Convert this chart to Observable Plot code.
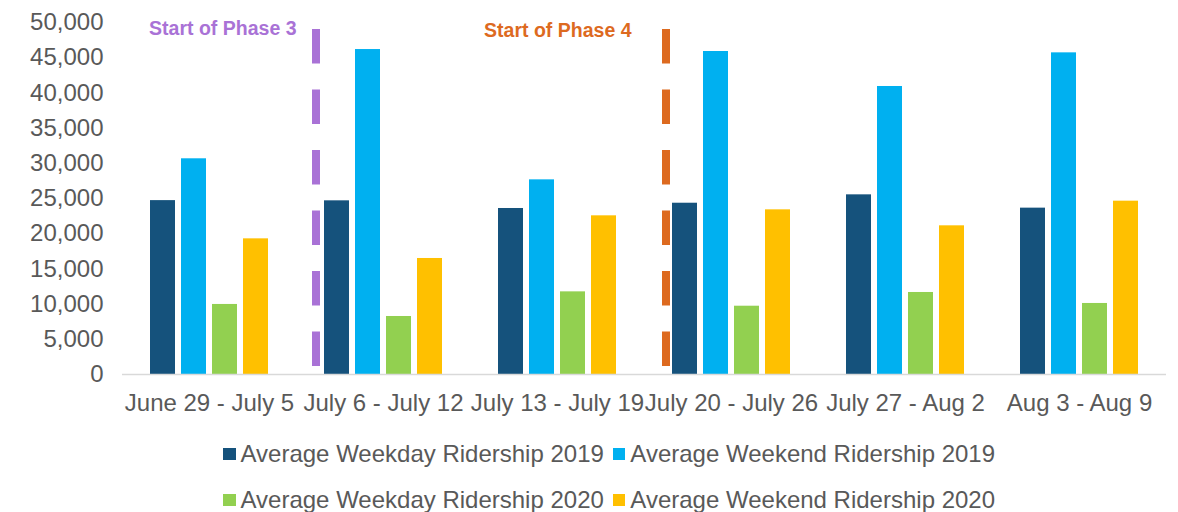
<!DOCTYPE html>
<html><head><meta charset="utf-8">
<script src="https://cdn.jsdelivr.net/npm/d3@7"></script>
<script src="https://cdn.jsdelivr.net/npm/@observablehq/plot@0.6"></script>
<style>
body{margin:0;background:#fff;font-family:"Liberation Sans",Arial,sans-serif;}
#legend{display:grid;grid-template-columns:auto auto;justify-content:start;column-gap:9px;margin-left:223px;margin-top:11px;font-size:24px;color:#595959;line-height:46px}
.item{display:flex;align-items:center;white-space:nowrap}
.sw{width:12.5px;height:12.5px;margin-right:5px;display:inline-block;flex:none}
</style></head><body><div id="chart"></div><div id="legend"></div>
<script>
const weeks = ["June 29 - July 5", "July 6 - July 12", "July 13 - July 19", "July 20 - July 26", "July 27 - Aug 2", "Aug 3 - Aug 9"];
const seriesNames = ["Average Weekday Ridership 2019", "Average Weekend Ridership 2019", "Average Weekday Ridership 2020", "Average Weekend Ridership 2020"];
const seriesColors = ["#15527C", "#00B0F0", "#92D050", "#FFC000"];
const weekdayRidership2019 = [24700, 24670, 23580, 24330, 25520, 23630];
const weekendRidership2019 = [30640, 46160, 27650, 45880, 40910, 45690];
const weekdayRidership2020 = [9950, 8240, 11740, 9700, 11650, 10090];
const weekendRidership2020 = [19270, 16480, 22540, 23390, 21120, 24620];
const yTicks = [0, 5000, 10000, 15000, 20000, 25000, 30000, 35000, 40000, 45000, 50000];
const phaseWeeks = ["July 6 - July 12", "July 20 - July 26"];
const phaseLabels = ["Start of Phase 3", "Start of Phase 4"];
const phaseColors = ["#A972D6", "#DD6A1F"];
const phaseRuleTop = 49000;
const phaseRuleBottom = 1100;

const seriesValues = [weekdayRidership2019, weekendRidership2019, weekdayRidership2020, weekendRidership2020];
const data = weeks.flatMap((w, i) => seriesNames.map((s, j) => ({week: w, series: s, value: seriesValues[j][i]})));
const phases = phaseWeeks.map((w, i) => ({week: w, prevWeek: weeks[weeks.indexOf(w) - 1], label: phaseLabels[i], color: phaseColors[i]}));

const fmt = d3.format(",");
const font = '"Liberation Sans", Arial, sans-serif';

function phaseRule(p, dx) {
  return Plot.ruleX([p], {fx: "week", x: () => seriesNames[0], y1: () => phaseRuleTop, y2: () => phaseRuleBottom,
    stroke: p.color, strokeWidth: 8, strokeDasharray: "34.5,26", dx});
}
function phaseText(p, dx, dy) {
  return Plot.text([p], {fx: "prevWeek", text: "label", frameAnchor: "top-right", textAnchor: "end", lineAnchor: "middle",
    fill: p.color, fontWeight: "bold", fontSize: 19.5, dx, dy});
}

const chart = Plot.plot({
  width: 1178, height: 420,
  marginLeft: 120, marginRight: 10, marginTop: 22, marginBottom: 46,
  style: {fontFamily: font, fontSize: "24px", color: "#595959", background: "#fff"},
  fx: {domain: weeks, padding: 0, label: null},
  x: {domain: seriesNames, paddingInner: 0.2, paddingOuter: 0.86, axis: null},
  y: {domain: [0, 50000], label: null},
  color: {domain: seriesNames, range: seriesColors},
  marks: [
    Plot.axisY({ticks: yTicks, tickSize: 0, tickPadding: 19, tickFormat: fmt, label: null, fill: "#595959"}),
    Plot.axisFx({anchor: "bottom", tickSize: 0, tickPadding: 19, label: null, fill: "#595959"}),
    Plot.barY(data, {fx: "week", x: "series", y: "value", fill: "series"}),
    Plot.ruleY([0], {stroke: "#D9D9D9", strokeWidth: 1.5}),
    phaseRule(phases[0], -21),
    phaseRule(phases[1], -19),
    phaseText(phases[0], 0, 6),
    phaseText(phases[1], -13, 8.5)
  ]
});
document.getElementById("chart").appendChild(chart);

const legend = document.getElementById("legend");
seriesNames.forEach((s, i) => {
  const item = document.createElement("div");
  item.className = "item";
  const sw = document.createElement("span");
  sw.className = "sw";
  sw.style.background = seriesColors[i];
  item.appendChild(sw);
  item.appendChild(document.createTextNode(s));
  legend.appendChild(item);
});
</script></body></html>
